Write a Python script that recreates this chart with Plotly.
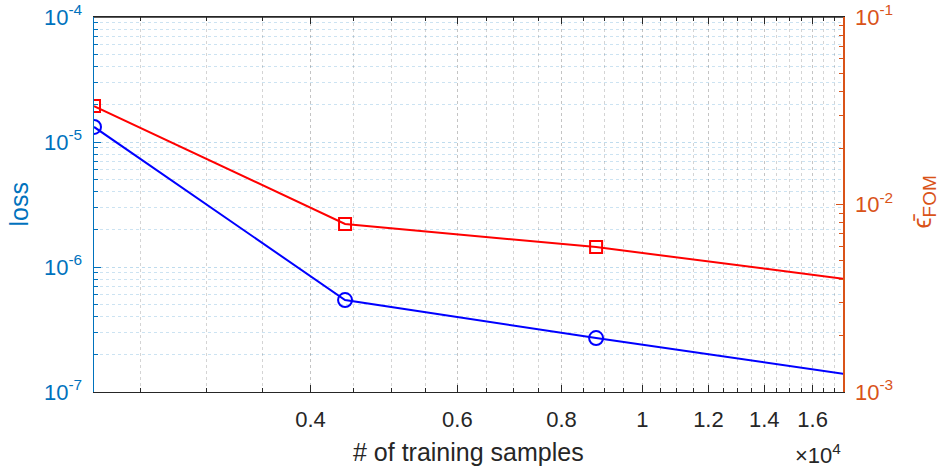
import numpy as np
import plotly.graph_objects as go

# ---- data ----
n_samples = [2200, 4400, 8800, 35200]
loss = [1.32e-5, 5.44e-7, 2.70e-7, 7.1e-8]
eps_fom = [0.0335, 0.00787, 0.00593, 0.00269]

x_limits = [2200, 17400]

x_tickvals = [4000, 6000, 8000, 10000, 12000, 14000, 16000]
x_ticktext = ["0.4", "0.6", "0.8", "1", "1.2", "1.4", "1.6"]
y1_tickvals = [1e-7, 1e-6, 1e-5, 1e-4]
y1_ticktext = ["10<sup>-7</sup>", "10<sup>-6</sup>", "10<sup>-5</sup>", "10<sup>-4</sup>"]
y2_tickvals = [1e-3, 1e-2, 1e-1]
y2_ticktext = ["10<sup>-3</sup>", "10<sup>-2</sup>", "10<sup>-1</sup>"]

LEFT = "rgb(0,114,189)"
RIGHT = "rgb(217,83,25)"
DARK = "rgb(38,38,38)"
FONT = "Liberation Sans, Arial, sans-serif"
TICK_SIZE = 22
TITLE_SIZE = 25

x_minor = [float(v) for v in np.arange(2500, 17500, 500) if v not in x_tickvals]
y1_minor = [k * 10.0 ** e for e in range(-7, -4) for k in range(2, 10)]
y2_minor = [k * 10.0 ** e for e in range(-3, -1) for k in range(2, 10)]

x_range = [np.log10(x_limits[0]), np.log10(x_limits[1])]

fig = go.Figure()
fig.add_trace(go.Scatter(
    x=n_samples, y=loss, mode="lines+markers", yaxis="y",
    line=dict(color="rgb(0,0,255)", width=2),
    marker=dict(symbol="circle-open", size=14, color="rgb(0,0,255)", line=dict(width=2)),
    showlegend=False, hoverinfo="skip"))
fig.add_trace(go.Scatter(
    x=n_samples, y=eps_fom, mode="lines+markers", yaxis="y2",
    line=dict(color="rgb(255,0,0)", width=2),
    marker=dict(symbol="square-open", size=12, color="rgb(255,0,0)", line=dict(width=2)),
    showlegend=False, hoverinfo="skip"))
# invisible trace bound to the top (box) axis so it is drawn
fig.add_trace(go.Scatter(
    x=n_samples, y=loss, xaxis="x2", yaxis="y", mode="lines",
    line=dict(color="rgba(0,0,0,0)", width=0), showlegend=False, hoverinfo="skip"))

axis_common = dict(
    type="log", automargin=False, range=x_range,
    tickmode="array", tickvals=x_tickvals, ticktext=x_ticktext,
    ticks="inside", ticklen=7, tickcolor=DARK, tickwidth=1,
    showline=True, linecolor=DARK, linewidth=1, zeroline=False,
)

fig.update_layout(
    width=944, height=468,
    margin=dict(l=94, r=101, t=17, b=76),
    paper_bgcolor="white", plot_bgcolor="white",
    font=dict(family=FONT, size=TICK_SIZE, color=DARK),
    xaxis=dict(
        **axis_common,
        ticklabelstandoff=8, ticklabeloverflow="allow",
        showgrid=True, gridcolor="rgba(60,60,60,0.3)", griddash="dot", gridwidth=1,
        minor=dict(tickmode="array", tickvals=x_minor, ticks="inside", ticklen=4,
                   tickcolor=DARK, showgrid=True, gridcolor="rgba(60,60,60,0.22)",
                   griddash="dot", gridwidth=1),
        tickfont=dict(size=TICK_SIZE, color=DARK),
    ),
    xaxis2=dict(
        **axis_common,
        overlaying="x", side="top", showticklabels=False, showgrid=False,
        minor=dict(tickmode="array", tickvals=x_minor, ticks="inside", ticklen=4,
                   tickcolor=DARK, showgrid=False),
    ),
    yaxis=dict(
        type="log", range=[-7, -4], automargin=False,
        tickmode="array", tickvals=y1_tickvals, ticktext=y1_ticktext,
        ticks="inside", ticklen=7, tickcolor=LEFT, tickwidth=1,
        ticklabelstandoff=6, ticklabeloverflow="allow",
        showline=True, linecolor=LEFT, linewidth=1.5,
        showgrid=True, gridcolor="rgba(0,114,189,0.25)", griddash="dot", gridwidth=1,
        minor=dict(tickmode="array", tickvals=y1_minor, ticks="inside", ticklen=4,
                   tickcolor=LEFT, showgrid=True, gridcolor="rgba(0,114,189,0.2)",
                   griddash="dot", gridwidth=1),
        zeroline=False,
        tickfont=dict(size=TICK_SIZE, color=LEFT),
    ),
    yaxis2=dict(
        type="log", range=[-3, -1], overlaying="y", side="right", automargin=False,
        tickmode="array", tickvals=y2_tickvals, ticktext=y2_ticktext,
        ticks="inside", ticklen=7, tickcolor=RIGHT, tickwidth=1,
        ticklabelstandoff=6, ticklabeloverflow="allow",
        showline=True, linecolor=RIGHT, linewidth=1.5,
        showgrid=False,
        minor=dict(tickmode="array", tickvals=y2_minor, ticks="inside", ticklen=4,
                   tickcolor=RIGHT, showgrid=False),
        zeroline=False,
        tickfont=dict(size=TICK_SIZE, color=RIGHT),
    ),
    shapes=[dict(type="line", xref="paper", yref="paper", x0=0, x1=1, y0=1, y1=1,
                 line=dict(color=DARK, width=1.5), layer="above")],
    annotations=[
        dict(text="# of training samples", xref="paper", yref="paper", x=0.5, y=0,
             xanchor="center", yanchor="middle", yshift=-60, showarrow=False,
             font=dict(size=TITLE_SIZE, color=DARK)),
        dict(text="loss", xref="paper", yref="paper", x=0, y=0.5,
             xanchor="center", yanchor="middle", xshift=-76, textangle=-90, showarrow=False,
             font=dict(size=TITLE_SIZE, color=LEFT)),
        dict(text="\u03f5\u0304<sub><span style='font-size:19px'>FOM</span></sub>",
             xref="paper", yref="paper", x=1, y=0.5,
             xanchor="center", yanchor="middle", xshift=80, yshift=2, textangle=-90,
             showarrow=False, font=dict(size=TITLE_SIZE, color=RIGHT)),
        dict(text="\u00d710<sup>4</sup>", xref="paper", yref="paper", x=1, y=0,
             xanchor="right", yanchor="middle", yshift=-62, showarrow=False,
             font=dict(size=TICK_SIZE, color=DARK)),
    ],
)

fig.write_html(
    "out.html",
    config={"displayModeBar": False, "staticPlot": True},
    post_script="document.body.style.margin='0px';document.body.style.padding='0px';",
)
